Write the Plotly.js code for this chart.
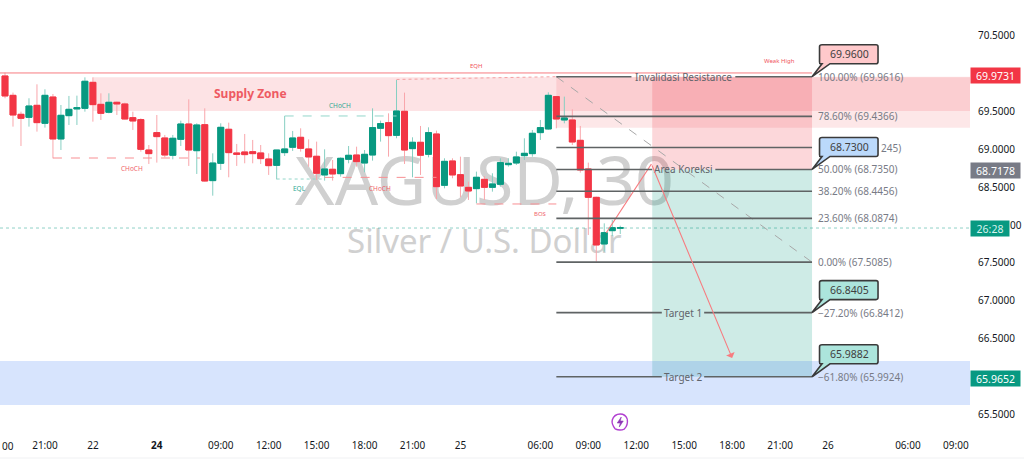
<!DOCTYPE html>
<html><head><meta charset="utf-8">
<script src="https://cdn.plot.ly/plotly-3.0.1.min.js"></script>
<style>html,body{margin:0;padding:0;background:#fff;overflow:hidden}#c{width:1024px;height:466px}</style>
</head><body><div id="c"></div>
<script>
const openP=[69.971,69.715,69.464,69.424,69.583,69.345,69.693,69.138,69.446,69.535,69.543,69.887,69.596,69.491,69.623,69.601,69.420,69.394,68.992,69.222,69.151,68.922,69.133,69.336,68.983,69.327,68.587,68.816,69.266,68.953,68.966,68.970,68.953,68.873,68.789,68.957,69.028,69.160,69.006,68.909,68.662,68.737,68.679,68.869,68.926,68.820,68.926,69.279,69.354,69.186,69.504,69.010,69.094,68.935,69.204,68.525,68.847,68.666,68.498,68.481,68.604,68.498,68.538,68.798,68.820,68.917,68.944,69.222,69.270,69.698,69.389,69.389,69.120,68.741,68.366,67.749,67.925,67.956];
const highP=[70.015,69.751,69.499,69.676,69.861,69.795,69.733,69.587,69.707,69.711,69.953,69.953,69.742,69.742,69.632,69.618,69.499,69.411,69.058,69.455,69.191,69.191,69.380,69.662,69.345,69.543,68.948,69.345,69.354,69.072,69.204,69.125,69.058,68.948,68.992,69.442,69.244,69.279,69.133,69.103,69.001,68.860,68.895,69.045,69.036,68.992,69.543,69.380,69.477,69.918,69.751,69.160,69.310,69.292,69.248,68.882,68.882,68.904,68.573,68.706,68.648,68.684,68.882,68.882,68.970,69.147,69.257,69.389,69.755,69.698,69.698,69.530,69.310,68.825,68.375,68.022,68.066,67.991];
const lowP=[69.676,69.301,69.045,69.301,69.235,69.288,68.882,68.992,69.323,69.323,69.499,69.367,69.389,69.477,69.455,69.398,69.257,68.970,68.807,68.825,68.895,68.869,69.045,68.781,68.675,68.573,68.388,68.728,68.631,68.781,68.816,68.816,68.807,68.662,68.604,68.913,68.979,68.970,68.772,68.595,68.587,68.587,68.640,68.816,68.772,68.697,68.851,69.103,68.904,69.147,68.807,68.631,68.662,68.895,68.344,68.485,68.618,68.366,68.331,68.287,68.331,68.441,68.507,68.772,68.794,68.860,68.904,69.125,69.257,69.279,69.345,69.058,68.692,67.868,67.515,67.647,67.855,67.881];
const closeP=[69.707,69.455,69.411,69.574,69.354,69.715,69.138,69.451,69.530,69.552,69.901,69.592,69.477,69.623,69.601,69.402,69.376,69.001,68.944,69.169,68.926,69.147,69.336,68.992,69.323,68.582,68.820,69.292,68.957,68.935,68.931,68.944,68.878,68.785,68.992,69.006,69.151,69.014,68.900,68.684,68.741,68.675,68.882,68.922,68.838,68.935,69.288,69.341,69.182,69.508,68.992,69.094,68.922,69.222,68.507,68.842,68.662,68.516,68.450,68.631,68.498,68.543,68.825,68.816,68.900,68.948,69.213,69.288,69.715,69.402,69.416,69.098,68.728,68.366,67.736,67.899,67.965,67.965];
const barIndex=openP.map((_,i)=>i);

const xTickVals=[5,11,19,27,33,39,45,51,57,67,73,79,85,91,97,103,113,119];
const xTickText=['21:00','22','<b>24</b>','09:00','12:00','15:00','18:00','21:00','25','06:00','09:00','12:00','15:00','18:00','21:00','26','06:00','09:00'];
const yTickVals=[65.5,66.5,67,67.5,68.5,69,69.5,70.5];
const yTickText=['65.5000','66.5000','67.0000','67.5000','68.5000','69.0000','69.5000','70.5000'];

const xMin=-0.626,xMax=120.77,yMin=65.262,yMax=70.976;
const fibStart=69,fibEnd=101,posStart=81;
const fibPrices=[69.9616,69.4366,69.0245,68.735,68.4456,68.0874,67.5085,66.8412,65.9924];
const fibLabels=['100.00% (69.9616)','78.60% (69.4366)','','50.00% (68.7350)','38.20% (68.4456)','23.60% (68.0874)','0.00% (67.5085)','\u221227.20% (66.8412)','\u221261.80% (65.9924)'];
const fibCaptions=['Invalidasi Resistance','','','Area Koreksi','','','','Target 1','Target 2'];
const fibGaps=[[78.4,91.4],null,null,[81,88.9],null,null,null,[82.2,87.5],[82.2,87.5]];
const captionX=84.9;

const calloutPrices=[69.9616,68.735,66.8412,65.9924];
const calloutText=['69.9600','68.7300','66.8405','65.9882'];
const calloutFill=['#ffc9cb','#bbd9fb','#ace5dc','#ace5dc'];

const tagPrices=[69.9731,68.7178,67.96,65.9652];
const tagText=['69.9731','68.7178','26:28','65.9652'];
const tagFill=['#f23645','#787b86','#089981','#089981'];
const tagWidth=[49,49,38,49];
const lastPrice=67.96;

const RED='#f23645',GREEN='#089981',PALE_R='#f9a6ab',PALE_G='#86cfc2',LINE_R='#f88f93',FIB='#5f6364';
const F='"Noto Sans", sans-serif';

function rect(x0,x1,y0,y1,fill){return {type:'rect',layer:'below',x0,x1,y0,y1,fillcolor:fill,line:{width:0}};}
function seg(x0,y0,x1,y1,color,width,dash,layer){return {type:'line',layer:layer||'above',x0,y0,x1,y1,line:{color,width,dash:dash||'solid'}};}

const shapes=[
 {type:'rect',layer:'below',x0:33,x1:87,y0:68.9,y1:68.2,line:{width:0},fillcolor:'rgba(0,0,0,0)',
  label:{text:'XAGUSD, 30',textposition:'middle center',font:{family:F,size:68,color:'#d0d0d0'}}},
 {type:'rect',layer:'below',x0:35,x1:85,y0:67.875,y1:67.675,line:{width:0},fillcolor:'rgba(0,0,0,0)',
  label:{text:'Silver / U.S. Dollar',textposition:'middle center',font:{family:F,size:33,color:'#d0d0d0'}}},
 rect(11,xMax,69.953,69.507,'rgba(242,54,69,0.14)'),
 rect(fibStart,xMax,69.9616,69.287,'rgba(242,54,69,0.12)'),
 rect(posStart,fibEnd,69.9616,68.735,'rgba(242,54,69,0.2)'),
 rect(posStart,fibEnd,68.735,65.9924,'rgba(8,153,129,0.2)'),
 rect(xMin,xMax,66.201,65.619,'rgba(41,110,245,0.19)'),
 seg(xMin,70.011,fibEnd,70.011,'#f77c80',1),
 seg(49,69.925,69,69.9616,'#f4a0a3',1,'dot'),
 seg(fibStart,69.9616,fibEnd,67.5085,'#a8a8a8',1,'dash'),
 seg(6,68.886,24.4,68.886,LINE_R,1,'dash'),
 seg(35,69.442,49,69.442,'#93d6ca',1,'dash'),
 seg(34,68.608,40,68.608,'#93d6ca',1,'dot'),
 seg(40,68.63,54,68.63,LINE_R,1,'dash'),
 seg(59,68.278,69,68.278,LINE_R,1,'dash'),
 seg(xMin,lastPrice,xMax,lastPrice,'rgba(8,153,129,0.45)',1,'dot','below'),
 seg(75.25,67.898,80.9,68.807,'#f77c80',1.2),
];
fibPrices.forEach((p,i)=>{
  const g=fibGaps[i];
  if(g){shapes.push(seg(fibStart,p,g[0],p,FIB,1.6));shapes.push(seg(g[1],p,fibEnd,p,FIB,1.6));}
  else shapes.push(seg(fibStart,p,fibEnd,p,FIB,1.6));
});
function pixShape(x,y,path,fill,lw,lc){return {type:'path',layer:'above',xsizemode:'pixel',ysizemode:'pixel',xanchor:x,yanchor:y,path,fillcolor:fill,line:{color:lc||'#3a3a3a',width:lw}};}
const calloutPath='M 10 13 L 8 13 Q 7.5 13 7.5 15 L 7.5 30 Q 7.5 32 10 32 L 64 32 Q 66 32 66 30 L 66 15 Q 66 13 64 13 L 18 13 L 0 0 Z';
calloutPrices.forEach((p,i)=>{
  shapes.push(pixShape(fibEnd,p,calloutPath,calloutFill[i],1.6));
  shapes.push(pixShape(fibEnd,p,'M -2 0 A 2 2 0 1 0 2 0 A 2 2 0 1 0 -2 0 Z','#333',0.5));
});
shapes.push(pixShape(77,65.394,'M -5 -7 Q -9 -2 -8 2 Q -6 8 0 8 Q 5 8 7 3',"rgba(0,0,0,0)",1.4,'#b13fd1'));
shapes.push(pixShape(77,65.394,'M 7 3 Q 8 -3 4 -7 Q 0 -9 -5 -7',"rgba(0,0,0,0)",1.4,'#b13fd1'));
shapes.push(pixShape(77,65.394,'M 1 5 L -3 -1 L 0 -1 L -1 -5 L 3 1 L 0 1 Z','#8e36b5',0.6,'#8e36b5'));
shapes.push(pixShape(77,65.394,'M 4 6 A 2.5 2.5 0 1 0 9 6 A 2.5 2.5 0 1 0 4 6 Z','#f23645',0,'#f23645'));
shapes.push({type:'line',xref:'paper',yref:'paper',x0:0,x1:1.0557,y0:-0.0602,y1:-0.0602,line:{color:'#f0f1f3',width:1}});

const ann=[];
function txt(x,y,t,size,color,extra){ann.push(Object.assign({x,y,text:t,showarrow:false,font:{family:F,size,color},xanchor:'center',yanchor:'middle'},extra||{}));}
txt(30.7,69.74,'<b>Supply Zone</b>',12,'#ee5a62');
txt(59,70.103,'EQH',6,'#f0555c');
txt(96.9,70.169,'Weak High',6,'#f0555c');
txt(15.9,68.741,'CHoCH',6.5,'#f0656c');
txt(41.9,69.587,'CHoCH',6.5,'#2fa994');
txt(36.9,68.489,'EQL',6.5,'#2fa994');
txt(46.9,68.489,'CHoCH',6.5,'#f0656c');
txt(67,68.145,'BOS',6,'#f0656c');
fibPrices.forEach((p,i)=>{
  if(fibLabels[i])txt(fibEnd,p,fibLabels[i],10,'#787b86',{xanchor:'left',xshift:4});
  if(fibCaptions[i])txt(captionX,p,fibCaptions[i],10,'#60646b');
});
txt(fibEnd,69.0245,'245)',10,'#787b86',{xanchor:'left',xshift:67});
calloutPrices.forEach((p,i)=>{
  txt(fibEnd,p,calloutText[i],10.5,'#3f3f3f',{xshift:37,yshift:22.5});
});
tagPrices.forEach((p,i)=>{
  ann.push({xref:'paper',x:1,y:p,yref:'y',xanchor:'left',yanchor:'middle',showarrow:false,text:tagText[i],
    font:{family:F,size:10.5,color:i===2?'#d8f3ee':'#ffffff'},bgcolor:tagFill[i],width:tagWidth[i],height:15,borderpad:0,align:'center'});
});
ann.push({xref:'paper',x:1.0395,y:68,yref:'y',xanchor:'left',yanchor:'middle',showarrow:false,text:'00',font:{family:F,size:10,color:'#131722'}});
ann.push({x:91,y:66.241,ax:80.9,ay:68.807,axref:'x',ayref:'y',xref:'x',yref:'y',text:'',showarrow:true,arrowhead:1,arrowsize:1.4,arrowwidth:1.1,arrowcolor:'#f77c80'});
ann.push({xref:'paper',yref:'paper',x:0,y:-0.033,xanchor:'left',yanchor:'middle',showarrow:false,text:'00',font:{family:F,size:10,color:'#131722'}});

const wicks={type:'candlestick',x:barIndex,open:openP,high:highP,low:lowP,close:closeP,hoverinfo:'skip',showlegend:false,
  increasing:{line:{color:PALE_G,width:1},fillcolor:GREEN},decreasing:{line:{color:PALE_R,width:1},fillcolor:RED}};
const bodies={type:'candlestick',x:barIndex,open:openP,close:closeP,
  high:openP.map((o,i)=>Math.max(o,closeP[i])),low:openP.map((o,i)=>Math.min(o,closeP[i])),hoverinfo:'skip',showlegend:false,
  increasing:{line:{color:GREEN,width:1},fillcolor:GREEN},decreasing:{line:{color:RED,width:1},fillcolor:RED}};

Plotly.newPlot('c',[wicks,bodies],{
  width:1024,height:466,paper_bgcolor:'#fff',plot_bgcolor:'#fff',showlegend:false,dragmode:false,
  boxmode:'overlay',boxgap:0.25,boxgroupgap:0,
  margin:{l:0,r:54,t:0,b:34,pad:0},
  font:{family:F,size:10,color:'#131722'},
  xaxis:{type:'linear',range:[xMin,xMax],rangeslider:{visible:false},showgrid:false,zeroline:false,showline:false,
    tickmode:'array',tickvals:xTickVals,ticktext:xTickText,ticks:'outside',ticklen:4,tickcolor:'rgba(0,0,0,0)',tickfont:{family:F,size:10,color:'#131722'}},
  yaxis:{side:'right',range:[yMin,yMax],showgrid:false,zeroline:false,showline:false,
    tickmode:'array',tickvals:yTickVals,ticktext:yTickText,ticks:'outside',ticklen:5,tickcolor:'rgba(0,0,0,0)',tickfont:{family:F,size:10,color:'#131722'}},
  shapes,annotations:ann
},{displayModeBar:false,staticPlot:true});
</script></body></html>
